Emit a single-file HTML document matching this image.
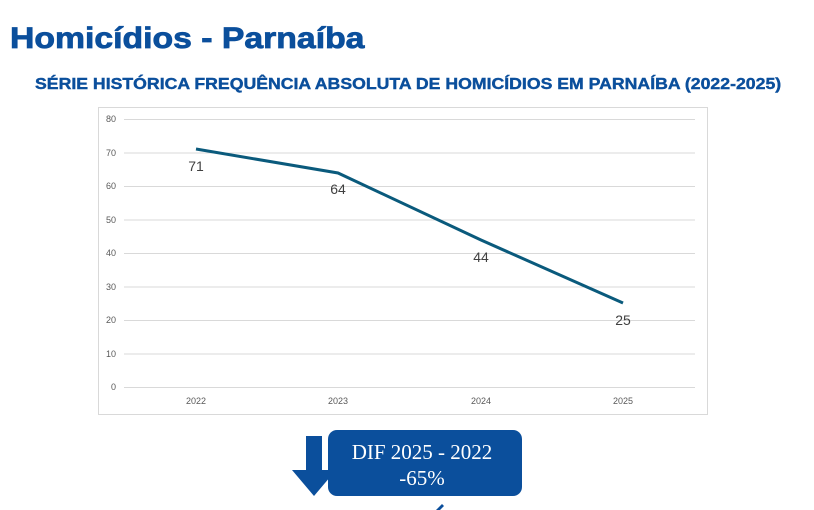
<!DOCTYPE html><html><head><style>body{margin:0;width:814px;height:510px;background:#fff;overflow:hidden;position:relative;font-family:"Liberation Sans",sans-serif}</style></head><body>
<div style="position:absolute;left:10px;top:22px;font-size:30px;font-weight:900;color:#0b4f9c;transform:scaleX(1.125);transform-origin:0 0;-webkit-text-stroke:0.8px #0b4f9c">Homicídios - Parnaíba</div>
<div style="position:absolute;left:35px;top:76px;white-space:nowrap;font-size:15.5px;font-weight:bold;color:#0b4f9c;transform:scaleX(1.14);transform-origin:0 0;-webkit-text-stroke:0.4px #0b4f9c">SÉRIE HISTÓRICA FREQUÊNCIA ABSOLUTA DE HOMICÍDIOS EM PARNAÍBA (2022-2025)</div>
<svg style="position:absolute;left:0;top:0" width="814" height="510">
<rect x="98.5" y="107.5" width="609" height="307" fill="#fff" stroke="#d9d9d9"/>
<g stroke="#d9d9d9" stroke-width="1">
<line x1="124" x2="695" y1="119.5" y2="119.5"/><line x1="124" x2="695" y1="153" y2="153"/><line x1="124" x2="695" y1="186.5" y2="186.5"/><line x1="124" x2="695" y1="220" y2="220"/><line x1="124" x2="695" y1="253.5" y2="253.5"/><line x1="124" x2="695" y1="287" y2="287"/><line x1="124" x2="695" y1="320.5" y2="320.5"/><line x1="124" x2="695" y1="354" y2="354"/><line x1="124" x2="695" y1="387.5" y2="387.5"/></g>
<g font-size="9" fill="#595959" text-anchor="end" font-family="Liberation Sans"><text x="116" y="122">80</text><text x="116" y="156">70</text><text x="116" y="189">60</text><text x="116" y="223">50</text><text x="116" y="256">40</text><text x="116" y="290">30</text><text x="116" y="323">20</text><text x="116" y="357">10</text><text x="116" y="390">0</text></g>
<g font-size="9" fill="#595959" text-anchor="middle"><text x="196" y="404">2022</text><text x="338" y="404">2023</text><text x="481" y="404">2024</text><text x="623" y="404">2025</text></g>
<polyline points="196,149 338,173 481,240 623,303" fill="none" stroke="#0a5a7c" stroke-width="3"/>
<g font-size="14" fill="#404040" text-anchor="middle"><text x="196" y="171">71</text><text x="338" y="194">64</text><text x="481" y="262">44</text><text x="623" y="325">25</text></g>
<rect x="306" y="436" width="16" height="36" fill="#0b4f9c"/><polygon points="292,470 336,470 314,496" fill="#0b4f9c"/>
<rect x="328" y="430" width="194" height="66" rx="9" fill="#0b4f9c"/>
<g font-family="Liberation Serif" font-size="21" fill="#fff" text-anchor="middle"><text x="422" y="459">DIF 2025 - 2022</text><text x="422" y="485">-65%</text></g>
<polygon points="436,510 442,504 444,506 440,510" fill="#0b4f9c"/>
</svg></body></html>
